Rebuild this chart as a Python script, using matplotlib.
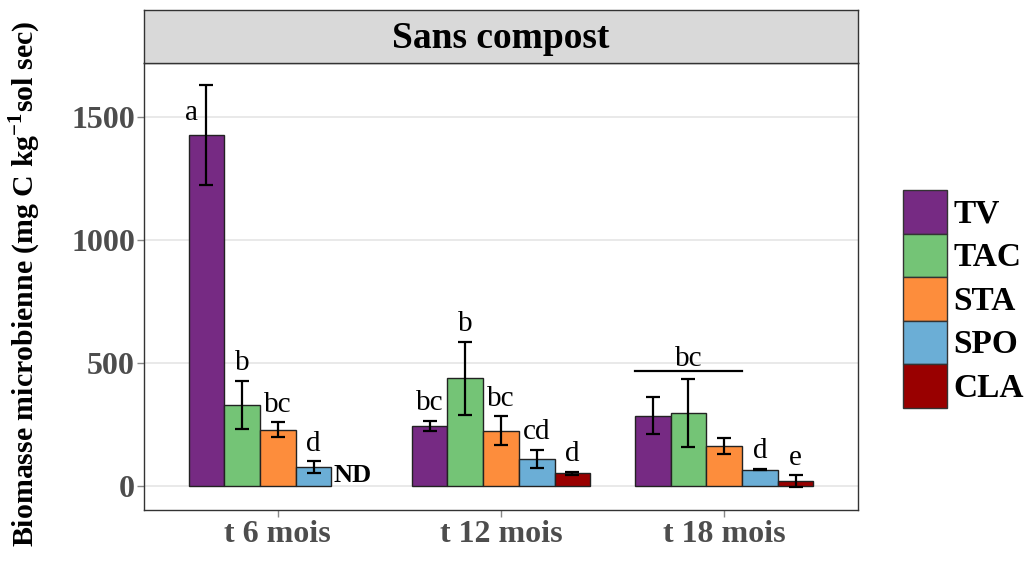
import matplotlib.pyplot as plt
import numpy as np
from matplotlib.patches import Patch

plt.rcParams['font.family'] = ['Liberation Serif', 'DejaVu Serif']
plt.rcParams['mathtext.fontset'] = 'custom'
plt.rcParams['mathtext.rm'] = 'Liberation Serif'
plt.rcParams['mathtext.bf'] = 'Liberation Serif:bold'

# soil biomass per treatment and sampling date
periods = ["t 6 mois", "t 12 mois", "t 18 mois"]
treatments = ["TV", "TAC", "STA", "SPO", "CLA"]
colors = ["#762A83", "#74C476", "#FD8D3C", "#6BAED6", "#990000"]

# rows = treatments, cols = periods (nan = not determined)
means = np.array([
    [1427, 245, 285],
    [329, 438, 296],
    [228, 225, 163],
    [76, 110, 66],
    [np.nan, 51, 20],
])
errors = np.array([
    [203, 20, 75],
    [97, 148, 137],
    [30, 58, 32],
    [24, 38, 3],
    [np.nan, 5, 23],
])
letters = [
    ["a", "bc", ""],
    ["b", "b", ""],
    ["bc", "bc", ""],
    ["d", "cd", "d"],
    ["", "d", "e"],
]
shared_letter = "bc"  # TV/TAC/STA at t 18 mois

fig = plt.figure(figsize=(10.24, 5.64), dpi=100)
W, H = 1024, 564
ax = fig.add_axes([144 / W, 1 - 510 / H, (858 - 144) / W, (510 - 63) / H])
strip = fig.add_axes([144 / W, 1 - 63 / H, (858 - 144) / W, (63 - 10) / H])

x = np.arange(1, len(periods) + 1)
bw = 0.16
for i, t in enumerate(treatments):
    xs = x + (i - 2) * bw
    ok = ~np.isnan(means[i])
    ax.bar(xs[ok], means[i][ok], width=bw, color=colors[i], edgecolor="#222222",
           linewidth=1.0, zorder=3)
    ax.errorbar(xs[ok], means[i][ok], yerr=errors[i][ok], fmt="none",
                ecolor="black", elinewidth=1.6, capsize=4.8, capthick=1.6, zorder=4)
    for j in range(len(periods)):
        lab = letters[i][j]
        if not lab:
            continue
        top = means[i][j] + errors[i][j]
        if lab == "a":
            ax.text(xs[j] - 0.065, means[i][j] + 90, lab, ha="center", va="center",
                    fontsize=21, zorder=5)
        else:
            ax.text(xs[j], top + 72, lab, ha="center", va="center", fontsize=21, zorder=5)

# CLA not determined at t 6 mois
ax.text(x[0] + 2 * bw + 0.015, -5, "ND", ha="center", va="bottom", fontsize=19,
        fontweight="bold", zorder=5)

# common letter for the first three treatments at t 18 mois
grp = means[:3, 2] + errors[:3, 2]
line_y = grp.max() + 33
ax.plot([x[2] - 2.5 * bw, x[2] + 0.5 * bw], [line_y, line_y], color="black", lw=1.6, zorder=4)
ax.text(x[2] - bw, line_y + 50, shared_letter, ha="center", va="center", fontsize=21)

ax.set_xlim(0.4, 3.6)
ax.set_ylim(-98, 1720)
ax.set_yticks([0, 500, 1000, 1500])
ax.set_xticks(x)
ax.set_xticklabels(periods)
ax.grid(axis="y", color="#E5E5E5", lw=1.2, zorder=0)
ax.set_axisbelow(True)
for s in ax.spines.values():
    s.set_color("#333333")
    s.set_linewidth(1.0)
ax.tick_params(axis="both", colors="#888888", length=5, width=1.0)
ax.tick_params(axis="y", pad=1.5)
ax.tick_params(axis="x", pad=2)
for lbl in ax.get_xticklabels() + ax.get_yticklabels():
    lbl.set_color("#4D4D4D")
    lbl.set_fontweight("bold")
    lbl.set_fontsize(23)
ax.set_ylabel("Biomasse microbienne (mg C kg$^{\\mathbf{-1}}$sol sec)", fontsize=21.5,
              fontweight="bold")
ax.yaxis.set_label_coords(-0.142, 0.506)

strip.set_facecolor("#D9D9D9")
strip.set_xticks([])
strip.set_yticks([])
for s in strip.spines.values():
    s.set_color("#333333")
    s.set_linewidth(1.0)
strip.text(0.5, 0.46, "Sans compost", ha="center", va="center", fontsize=27,
           fontweight="bold", transform=strip.transAxes)

handles = [Patch(facecolor=c, edgecolor="#333333", linewidth=1.0) for c in colors]
fig.legend(handles, treatments, loc="center left", bbox_to_anchor=(903 / W, 1 - 299 / H),
           frameon=False, prop={"weight": "bold", "size": 24},
           handlelength=1.32, handleheight=1.63, labelspacing=0.0, handletextpad=0.2,
           borderaxespad=0, borderpad=0)

fig.savefig("out.png", dpi=100)
